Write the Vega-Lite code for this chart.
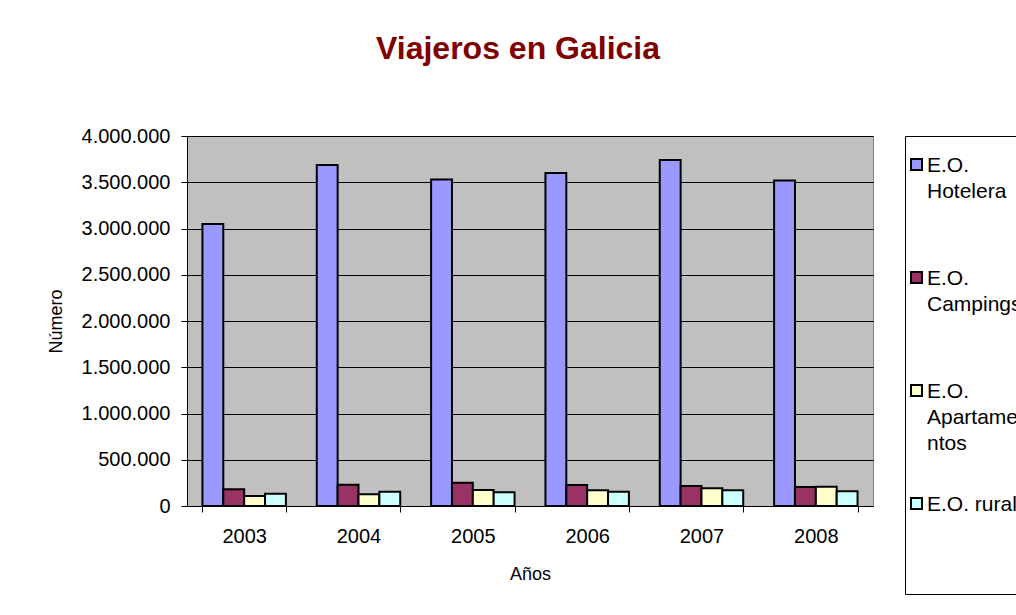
{
  "$schema": "https://vega.github.io/schema/vega-lite/v6.json",
  "autosize": {"type": "none"},
  "padding": {"left": 187, "top": 136, "right": 143, "bottom": 109},
  "width": 686,
  "height": 370,
  "background": "white",
  "title": {
    "text": "Viajeros en Galicia",
    "color": "#800000",
    "font": "Liberation Sans",
    "fontSize": 32,
    "fontWeight": "bold",
    "anchor": "middle",
    "dx": -12,
    "offset": 60
  },
  "data": {
    "values": [
      {"year": "2003", "serie": "E.O.|Hotelera", "value": 3050000},
      {"year": "2003", "serie": "E.O.|Campings", "value": 181000},
      {"year": "2003", "serie": "E.O.|Apartame|ntos", "value": 108000},
      {"year": "2003", "serie": "E.O. rural|||", "value": 133000},
      {"year": "2004", "serie": "E.O.|Hotelera", "value": 3686000},
      {"year": "2004", "serie": "E.O.|Campings", "value": 230000},
      {"year": "2004", "serie": "E.O.|Apartame|ntos", "value": 127000},
      {"year": "2004", "serie": "E.O. rural|||", "value": 155000},
      {"year": "2005", "serie": "E.O.|Hotelera", "value": 3530000},
      {"year": "2005", "serie": "E.O.|Campings", "value": 252000},
      {"year": "2005", "serie": "E.O.|Apartame|ntos", "value": 173000},
      {"year": "2005", "serie": "E.O. rural|||", "value": 148000},
      {"year": "2006", "serie": "E.O.|Hotelera", "value": 3600000},
      {"year": "2006", "serie": "E.O.|Campings", "value": 227000},
      {"year": "2006", "serie": "E.O.|Apartame|ntos", "value": 170000},
      {"year": "2006", "serie": "E.O. rural|||", "value": 155000},
      {"year": "2007", "serie": "E.O.|Hotelera", "value": 3740000},
      {"year": "2007", "serie": "E.O.|Campings", "value": 216000},
      {"year": "2007", "serie": "E.O.|Apartame|ntos", "value": 191000},
      {"year": "2007", "serie": "E.O. rural|||", "value": 170000},
      {"year": "2008", "serie": "E.O.|Hotelera", "value": 3520000},
      {"year": "2008", "serie": "E.O.|Campings", "value": 205000},
      {"year": "2008", "serie": "E.O.|Apartame|ntos", "value": 209000},
      {"year": "2008", "serie": "E.O. rural|||", "value": 159000}
    ]
  },
  "mark": {"type": "bar", "stroke": "black", "strokeWidth": 2},
  "encoding": {
    "x": {
      "field": "year",
      "type": "nominal",
      "title": "Años",
      "scale": {"paddingInner": 0.27, "paddingOuter": 0.135},
      "axis": {
        "labelAngle": 0,
        "labelFontSize": 20,
        "labelPadding": 14,
        "tickBand": "extent",
        "tickSize": 6,
        "titlePadding": 19,
        "titleFontSize": 18
      }
    },
    "xOffset": {
      "field": "serie",
      "type": "nominal",
      "scale": {
        "domain": ["E.O.|Hotelera", "E.O.|Campings", "E.O.|Apartame|ntos", "E.O. rural|||"],
        "paddingInner": 0,
        "paddingOuter": 0
      }
    },
    "y": {
      "field": "value",
      "type": "quantitative",
      "title": "Número",
      "scale": {"domain": [0, 4000000]},
      "axis": {
        "values": [0, 500000, 1000000, 1500000, 2000000, 2500000, 3000000, 3500000, 4000000],
        "format": ",d",
        "labelFontSize": 20,
        "labelPadding": 11,
        "tickSize": 6,
        "titleFontSize": 18,
        "titlePadding": 16
      }
    },
    "color": {
      "field": "serie",
      "type": "nominal",
      "scale": {
        "domain": ["E.O.|Hotelera", "E.O.|Campings", "E.O.|Apartame|ntos", "E.O. rural|||"],
        "range": ["#9999FF", "#993366", "#FFFFCC", "#CCFFFF"]
      },
      "legend": {
        "orient": "none",
        "legendX": 718,
        "legendY": 0,
        "title": " ",
        "titleFontSize": 10,
        "titlePadding": 7,
        "labelExpr": "split(datum.label, '|')",
        "labelFontSize": 21,
        "labelBaseline": "alphabetic",
        "labelOffset": 0,
        "labelLimit": 300,
        "symbolType": "square",
        "symbolSize": 121,
        "symbolStrokeColor": "black",
        "symbolStrokeWidth": 2,
        "gridAlign": "all",
        "rowPadding": 13,
        "padding": 1,
        "strokeColor": "black",
        "fillColor": "white",
        "encode": {
          "labels": {
            "update": {
              "dy": {"value": 7},
              "lineHeight": {"value": 26}
            }
          }
        }
      }
    }
  },
  "config": {
    "locale": {"number": {"decimal": ",", "thousands": ".", "grouping": [3], "currency": ["", " €"]}},
    "font": "Liberation Sans",
    "view": {"fill": "#C0C0C0", "stroke": "#808080", "strokeWidth": 1},
    "axis": {
      "domainColor": "black",
      "tickColor": "black",
      "gridColor": "black",
      "gridOpacity": 1,
      "labelColor": "black",
      "titleColor": "black",
      "titleFontWeight": "normal",
      "labelFont": "Liberation Sans",
      "titleFont": "Liberation Sans"
    },
    "axisX": {"grid": false},
    "legend": {"labelColor": "black", "labelFont": "Liberation Sans"}
  }
}
